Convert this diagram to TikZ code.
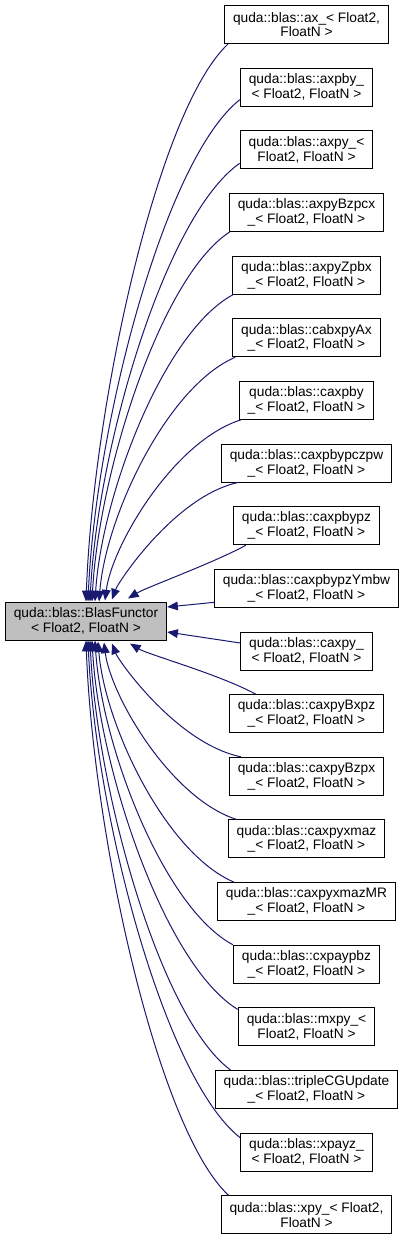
\documentclass[tikz,border=0pt]{standalone}
\usepackage{fontspec}
\setmainfont{Liberation Sans}
\usetikzlibrary{arrows.meta,calc}
\definecolor{edgeblue}{HTML}{191970}
\definecolor{basegray}{HTML}{BFBFBF}
\newcommand\curveedge[3][0.35]{%
  \draw[edge] let \p1=(#2), \p2=(#3) in (\p1) .. controls ({\x1+0.5*(\x2-\x1)},{\y1+0.12*(\y2-\y1)}) and ({\x2+0.05*(\x1-\x2)},{\y2-#1*(\y2-\y1)}) .. (\p2);}
\begin{document}
\begin{tikzpicture}[x=0.75pt,y=-0.75pt,
  box/.style={draw=black, line width=0.75pt, fill=white, align=center,
    font=\fontsize{10.3}{11}\selectfont, inner xsep=6.4pt, inner ysep=0pt,
    minimum height=28.5pt},
  basebox/.style={box, fill=basegray},
  edge/.style={draw=edgeblue, line width=0.75pt, -{Triangle[length=8pt,width=6.5pt]}}]
\useasboundingbox (0,0) rectangle (404,1240);
\fill[white] (0,0) rectangle (404,1240);

\node[basebox] (base) at (86,621) {quda::blas::BlasFunctor\\< Float2, FloatN >};

\node[box] (c1) at (306.5,24.5) {quda::blas::ax\_< Float2,\\FloatN >};
\node[box] (c2) at (306.5,87.15) {quda::blas::axpby\_\\< Float2, FloatN >};
\node[box] (c3) at (306.5,149.8) {quda::blas::axpy\_<\\Float2, FloatN >};
\node[box] (c4) at (306.5,212.45) {quda::blas::axpyBzpcx\\\_< Float2, FloatN >};
\node[box] (c5) at (306.5,275.1) {quda::blas::axpyZpbx\\\_< Float2, FloatN >};
\node[box] (c6) at (306.5,337.75) {quda::blas::cabxpyAx\\\_< Float2, FloatN >};
\node[box] (c7) at (306.5,400.4) {quda::blas::caxpby\\\_< Float2, FloatN >};
\node[box] (c8) at (306.5,463.05) {quda::blas::caxpbypczpw\\\_< Float2, FloatN >};
\node[box] (c9) at (306.5,525.7) {quda::blas::caxpbypz\\\_< Float2, FloatN >};
\node[box] (c10) at (306.5,588.35) {quda::blas::caxpbypzYmbw\\\_< Float2, FloatN >};
\node[box] (c11) at (306.5,651) {quda::blas::caxpy\_\\< Float2, FloatN >};
\node[box] (c12) at (306.5,713.65) {quda::blas::caxpyBxpz\\\_< Float2, FloatN >};
\node[box] (c13) at (306.5,776.3) {quda::blas::caxpyBzpx\\\_< Float2, FloatN >};
\node[box] (c14) at (306.5,838.95) {quda::blas::caxpyxmaz\\\_< Float2, FloatN >};
\node[box] (c15) at (306.5,901.6) {quda::blas::caxpyxmazMR\\\_< Float2, FloatN >};
\node[box] (c16) at (306.5,964.25) {quda::blas::cxpaypbz\\\_< Float2, FloatN >};
\node[box] (c17) at (306.5,1026.9) {quda::blas::mxpy\_<\\Float2, FloatN >};
\node[box] (c18) at (306.5,1089.55) {quda::blas::tripleCGUpdate\\\_< Float2, FloatN >};
\node[box] (c19) at (306.5,1152.2) {quda::blas::xpayz\_\\< Float2, FloatN >};
\node[box] (c20) at (306.5,1214.85) {quda::blas::xpy\_< Float2,\\FloatN >};

% upper edges
\curveedge{$(c1.south west)+(4,0)$}{$(base.north)+(0,0)$}
\curveedge{$(c2.south west)+(0,-7)$}{$(base.north)+(2,0)$}
\curveedge{$(c3.south west)+(0,-6)$}{$(base.north)+(4,0)$}
\curveedge{$(c4.south west)+(1,0)$}{$(base.north)+(6,0)$}
\curveedge{$(c5.south west)+(1,0)$}{$(base.north)+(9,0)$}
\curveedge{$(c6.south west)+(3,0)$}{$(base.north)+(13,0)$}
\curveedge[0.3]{$(c7.south west)+(2,0)$}{$(base.north)+(19,-1)$}
\curveedge[0.15]{$(c8.south west)+(17,0)$}{$(base.north)+(26,-2)$}
\draw[edge] ($(c9.south west)+(13,0)$) .. controls ($(c9.south west)+(-20,18)$) and ($(base.north)+(60,-14)$) .. ($(base.north)+(42,-3)$);
% side edges
\draw[edge] ($(c10.west)+(0,14)$) -- ($(base.east)+(0,-14)$);
\draw[edge] ($(c11.west)+(0,-8)$) -- ($(base.east)+(0,11)$);
% lower edges
\draw[edge] ($(c12.north west)+(27,0)$) .. controls ($(c12.north west)+(-10,-20)$) and ($(base.south)+(62,14)$) .. ($(base.south)+(44,3)$);
\curveedge[0.15]{$(c13.north west)+(12,0)$}{$(base.south)+(26,3)$}
\curveedge[0.3]{$(c14.north west)+(9,0)$}{$(base.south)+(18,2)$}
\curveedge{$(c15.north west)+(17,0)$}{$(base.south)+(12,1)$}
\curveedge{$(c16.north west)+(0,0)$}{$(base.south)+(9,0)$}
\curveedge{$(c17.north west)+(0,2)$}{$(base.south)+(6,0)$}
\curveedge{$(c18.north west)+(16,0)$}{$(base.south)+(4,0)$}
\curveedge{$(c19.north west)+(0,5)$}{$(base.south)+(2,0)$}
\curveedge{$(c20.north west)+(8,0)$}{$(base.south)+(0,0)$}
\end{tikzpicture}
\end{document}
